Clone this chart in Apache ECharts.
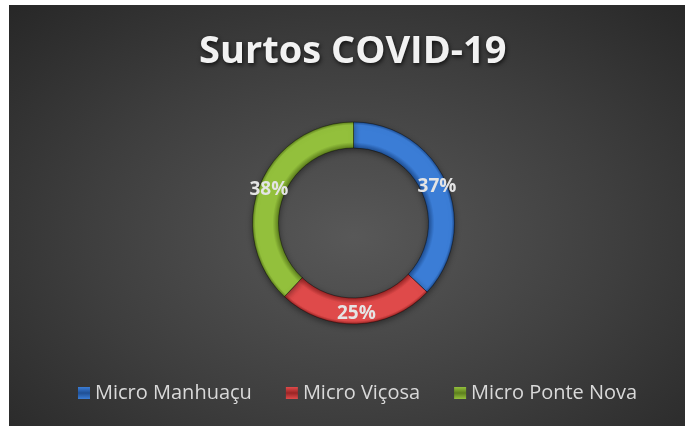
<!DOCTYPE html>
<html>
<head>
<meta charset="utf-8">
<script src="https://cdn.jsdelivr.net/npm/echarts@6/dist/echarts.min.js"></script>
<style>
  html, body { margin: 0; padding: 0; background: #ffffff; }
  #chart {
    position: absolute; left: 9px; top: 5px; width: 676px; height: 421px;
    background: radial-gradient(ellipse at 51% 55%, #585858 0%, #3e3e3e 55%, #272727 100%);
  }
</style>
</head>
<body>
<div id="chart"></div>
<script>
// values (percent of outbreaks)
const categories = ['Micro Manhuaçu', 'Micro Viçosa', 'Micro Ponte Nova'];
const values = [37, 25, 38];
const baseColors = ['#3b7dd6', '#df4a4a', '#93c03c'];
const edgeColors = ['#1f4f94', '#9a2525', '#5d7f1d'];

const cx = 344.5, cy = 218, rIn = 75, rOut = 101;

// tube-like bevel: dark at inner and outer edge, light in the middle
function bevel(i) {
  return new echarts.graphic.RadialGradient(cx, cy, rOut, [
    { offset: 0, color: edgeColors[i] },
    { offset: rIn / rOut, color: edgeColors[i] },
    { offset: 0.8, color: baseColors[i] },
    { offset: 0.97, color: baseColors[i] },
    { offset: 1, color: edgeColors[i] }
  ], true);
}

// small bevelled square for the legend
function legendIcon(i) {
  return new echarts.graphic.LinearGradient(0, 0, 0, 1, [
    { offset: 0, color: baseColors[i] },
    { offset: 0.5, color: edgeColors[i] },
    { offset: 1, color: baseColors[i] }
  ]);
}

const chart = echarts.init(document.getElementById('chart'));

const option = {
  backgroundColor: 'transparent',
  title: {
    text: 'Surtos COVID-19',
    left: 185,
    top: 23,
    textStyle: {
      fontFamily: 'Open Sans',
      fontWeight: 'bold',
      fontSize: 38,
      color: '#f2f2f2',
      textShadowColor: 'rgba(0,0,0,0.7)',
      textShadowBlur: 4,
      textShadowOffsetX: 1,
      textShadowOffsetY: 2
    }
  },
  legend: {
    data: categories.map((name, i) => ({
      name: name,
      itemStyle: { color: legendIcon(i), borderWidth: 0 }
    })),
    bottom: 18,
    left: 64,
    icon: 'rect',
    itemWidth: 12,
    itemHeight: 12,
    itemGap: 34,
    textStyle: {
      fontFamily: 'Open Sans',
      fontSize: 20,
      color: '#d9d9d9'
    }
  },
  series: [
    {
      type: 'pie',
      center: [cx, cy],
      radius: [rIn, rOut],
      startAngle: 90,
      clockwise: true,
      avoidLabelOverlap: false,
      data: categories.map((name, i) => ({
        name: name,
        value: values[i],
        itemStyle: { color: bevel(i) }
      })),
      itemStyle: {
        borderColor: 'rgba(0,0,0,0.35)',
        borderWidth: 0.6,
        shadowColor: 'rgba(0,0,0,0.45)',
        shadowBlur: 6,
        shadowOffsetY: 2
      },
      label: {
        show: true,
        position: 'inside',
        formatter: p => Math.round(p.percent) + '%',
        fontFamily: 'Open Sans',
        fontWeight: 'bold',
        fontSize: 19,
        color: '#e4e4e4'
      },
      labelLine: { show: false },
      emphasis: { disabled: true }
    }
  ]
};

chart.setOption(option);
</script>
</body>
</html>
